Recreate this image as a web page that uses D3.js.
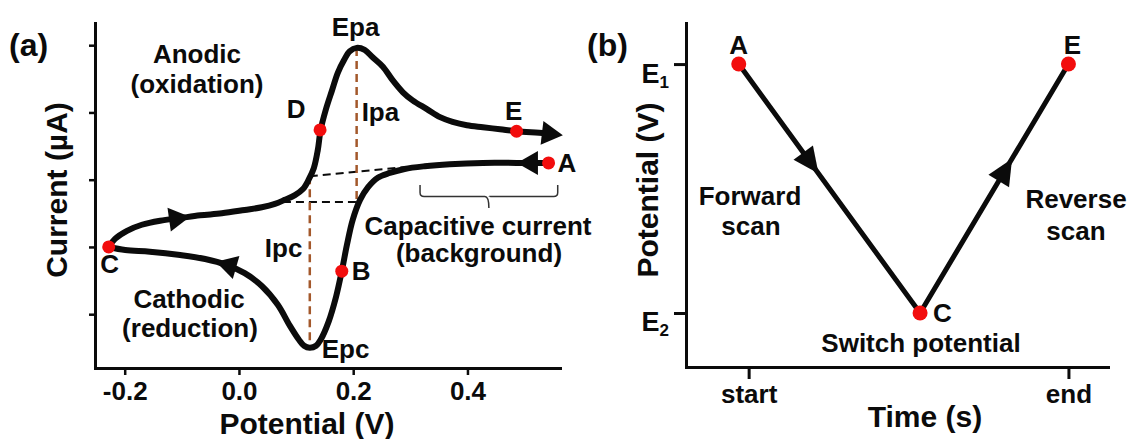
<!DOCTYPE html>
<html>
<head>
<meta charset="utf-8">
<script src="https://cdn.jsdelivr.net/npm/d3@7"></script>
<style>
  body { margin: 0; background: #fff; }
  svg { display: block; font-family: "Liberation Sans", Arial, sans-serif; font-weight: bold; }
</style>
</head>
<body>
<svg id="chart" width="1130" height="439"></svg>
<script>
// ---- (a) cyclic voltammogram: potential (V) vs current (arb. units, ticks unlabelled)
// anodic branch C -> D -> Epa -> E (ends in the arrow tip)
const anodicV = [-0.228, -0.217, -0.196, -0.170, -0.138, -0.103, -0.068, -0.030, 0.010, 0.040, 0.063, 0.080, 0.098, 0.112, 0.122, 0.131, 0.138, 0.143, 0.152, 0.163, 0.173, 0.184, 0.194, 0.206, 0.220, 0.234, 0.252, 0.269, 0.287, 0.304, 0.329, 0.352, 0.374, 0.399, 0.427, 0.457, 0.486, 0.535, 0.567];
const anodicI = [0, 0.12, 0.24, 0.33, 0.39, 0.43, 0.47, 0.50, 0.55, 0.59, 0.64, 0.70, 0.77, 0.86, 1.00, 1.17, 1.44, 1.74, 2.04, 2.33, 2.59, 2.78, 2.91, 2.96, 2.93, 2.82, 2.68, 2.48, 2.30, 2.18, 2.05, 1.93, 1.86, 1.81, 1.78, 1.75, 1.72, 1.69, 1.66];
// cathodic branch A -> B -> Epc -> C
const cathodicV = [0.542, 0.486, 0.427, 0.369, 0.325, 0.290, 0.264, 0.243, 0.226, 0.212, 0.199, 0.189, 0.180, 0.170, 0.157, 0.143, 0.135, 0.124, 0.114, 0.105, 0.089, 0.068, 0.040, 0.010, -0.021, -0.059, -0.103, -0.156, -0.199, -0.228];
const cathodicI = [1.25, 1.25, 1.25, 1.23, 1.20, 1.16, 1.10, 1.03, 0.89, 0.70, 0.40, 0.03, -0.36, -0.74, -1.11, -1.38, -1.47, -1.50, -1.47, -1.38, -1.17, -0.86, -0.58, -0.39, -0.27, -0.18, -0.12, -0.07, -0.045, 0];

const pointLabels = ["A", "B", "C", "D", "E"];
const pointV = [0.542, 0.180, -0.228, 0.142, 0.486];
const pointI = [1.25, -0.36, 0, 1.74, 1.72];

const peakLabels = ["Epa", "Epc"];
const peakV = [0.206, 0.124];
const peakI = [2.96, -1.50];
// baselines used to read the peak currents
const anodicBaseV = [0.077, 0.206], anodicBaseI = [0.67, 0.67];
const cathodicBaseV = [0.124, 0.294], cathodicBaseI = [1.05, 1.19];
// curly brace under the flat capacitive part
const braceV = [0.317, 0.558];
const braceI = [0.92, 0.75, 0.58];

const potentialTicks = [-0.2, 0, 0.2, 0.4];
const currentTicks = [-1, 0, 1, 2, 3];

// arrow tips on the voltammogram (branch, V, I); null = end of the branch
const arrowBranch = ["anodic", "cathodic", "cathodic", "anodic"];
const arrowV = [-0.086, -0.040, 0.486, null];
const arrowI = [0.45, -0.22, 1.25, null];

// ---- (b) potential waveform
const scanLabels = ["A", "C", "E"];
const scanTime = [0, 0.55, 1];
const scanPotential = [1, 0, 1];
const scanArrowAt = [0.44, 0.62];   // position of arrow tips along each leg
const timeTicks = [0.03, 1];
const timeTickLabels = ["start", "end"];
const levelTicks = [1, 0];
const levelLabels = ["1", "2"];

const svg = d3.select("#chart");
const ink = "#0b0b0b";
const red = "#f20d0d";
const brown = "#a3582b";

// ================= panel (a)
const xA = d3.scaleLinear().domain([-0.252, 0.562]).range([95, 560]);
const yA = d3.scaleLinear().domain([-1.8, 3.33]).range([368, 23]);

const gA = svg.append("g");

const axA = gA.append("g")
  .attr("transform", `translate(0,${yA.range()[0]})`)
  .call(d3.axisBottom(xA).tickValues(potentialTicks).tickFormat(d => d.toFixed(1)).tickSize(7).tickSizeOuter(0));
const ayA = gA.append("g")
  .attr("transform", `translate(${xA.range()[0]},0)`)
  .call(d3.axisLeft(yA).tickValues(currentTicks).tickFormat("").tickSize(6).tickSizeOuter(0));

[axA, ayA].forEach(g => {
  g.attr("font-family", null).attr("font-size", null);
  g.select(".domain").attr("stroke", ink).attr("stroke-width", 3).attr("stroke-linecap", "square");
  g.selectAll(".tick line").attr("stroke", ink).attr("stroke-width", 2.5);
});
axA.selectAll(".tick text")
  .attr("fill", ink).attr("font-size", 26).attr("dy", null).attr("y", 32);

gA.append("text").attr("x", 307).attr("y", 434)
  .attr("text-anchor", "middle").attr("font-size", 30).attr("fill", ink)
  .text("Potential (V)");
gA.append("text").attr("transform", "translate(67,190) rotate(-90)")
  .attr("text-anchor", "middle").attr("font-size", 30).attr("fill", ink)
  .text("Current (µA)");
gA.append("text").attr("x", 9).attr("y", 56).attr("font-size", 32).attr("fill", ink).text("(a)");

// dashed construction lines
const seg = (g, x1, y1, x2, y2, color, w) => g.append("line")
  .attr("x1", x1).attr("y1", y1).attr("x2", x2).attr("y2", y2)
  .attr("stroke", color).attr("stroke-width", w).attr("stroke-dasharray", "8,5");

seg(gA, xA(anodicBaseV[0]), yA(anodicBaseI[0]), xA(anodicBaseV[1]), yA(anodicBaseI[1]), ink, 2);
seg(gA, xA(cathodicBaseV[0]), yA(cathodicBaseI[0]), xA(cathodicBaseV[1]), yA(cathodicBaseI[1]), ink, 2);
seg(gA, xA(peakV[0]), yA(peakI[0]), xA(peakV[0]), yA(anodicBaseI[1]), brown, 2.5);
seg(gA, xA(peakV[1]), yA(cathodicBaseI[0]), xA(peakV[1]), yA(peakI[1]), brown, 2.5);

// brace
{
  const l = xA(braceV[0]), r = xA(braceV[1]), m = (l + r) / 2;
  const t = yA(braceI[0]), b = yA(braceI[1]), tip = yA(braceI[2]);
  gA.append("path")
    .attr("d", `M${l},${t}V${b - 4}Q${l},${b} ${l + 4},${b}H${m - 4}Q${m},${b} ${m},${tip}` +
               `M${m},${b - 0.01}Q${m},${b} ${m + 4},${b}H${r - 4}Q${r},${b} ${r},${b - 4}V${t}`)
    .attr("fill", "none").attr("stroke", "#333").attr("stroke-width", 1.5);
}

// curves
const lineA = d3.line().x(d => xA(d[0])).y(d => yA(d[1])).curve(d3.curveCatmullRom.alpha(0.5));
const branches = {
  anodic: d3.zip(anodicV, anodicI),
  cathodic: d3.zip(cathodicV, cathodicI)
};
const paths = {};
Object.keys(branches).forEach(k => {
  paths[k] = gA.append("path").datum(branches[k])
    .attr("d", lineA).attr("fill", "none")
    .attr("stroke", ink).attr("stroke-width", 6)
    .attr("stroke-linejoin", "round");
});

function arrowHead(g, tip, dir, len, half) {
  const bx = tip[0] - dir[0] * len, by = tip[1] - dir[1] * len;
  const nx = -dir[1], ny = dir[0];
  g.append("path")
    .attr("d", `M${tip[0]},${tip[1]}L${bx + nx * half},${by + ny * half}L${bx - nx * half},${by - ny * half}Z`)
    .attr("fill", ink);
}

function samplePath(node) {
  const total = node.getTotalLength();
  const pts = d3.range(0, 401).map(i => node.getPointAtLength(total * i / 400));
  return { total, pts };
}

const samples = {};
Object.keys(paths).forEach(k => { samples[k] = samplePath(paths[k].node()); });

arrowBranch.forEach((b, i) => {
  const { pts } = samples[b];
  let k;
  if (arrowV[i] === null) {
    k = pts.length - 1;
  } else {
    const px = xA(arrowV[i]), py = yA(arrowI[i]);
    k = d3.minIndex(pts, p => (p.x - px) ** 2 + (p.y - py) ** 2);
  }
  const p0 = pts[Math.max(0, k - 4)], p1 = pts[Math.min(pts.length - 1, k + 1)];
  const dx = p1.x - p0.x, dy = p1.y - p0.y, n = Math.hypot(dx, dy);
  arrowHead(gA, [pts[k].x, pts[k].y], [dx / n, dy / n], 21, 12);
});
// trim the anodic line so it ends under the arrowhead
paths.anodic.attr("stroke-dasharray", `${samples.anodic.total - 14} ${samples.anodic.total}`);

// points
gA.selectAll("circle.pt").data(pointLabels).join("circle")
  .attr("cx", (d, i) => xA(pointV[i])).attr("cy", (d, i) => yA(pointI[i]))
  .attr("r", 6.5).attr("fill", red);

const ptOffset = { A: [9, 9, "start"], B: [10, 9, "start"], C: [1, 26, "middle"], D: [-24, -12, "middle"], E: [-3, -11, "middle"] };
gA.selectAll("text.pt").data(pointLabels).join("text")
  .attr("x", (d, i) => xA(pointV[i]) + ptOffset[d][0])
  .attr("y", (d, i) => yA(pointI[i]) + ptOffset[d][1])
  .attr("text-anchor", d => ptOffset[d][2])
  .attr("font-size", 26).attr("fill", ink).text(d => d);

// annotations
const note = (g, x, y, s, anchor) => g.append("text").attr("x", x).attr("y", y)
  .attr("text-anchor", anchor || "middle").attr("font-size", 26).attr("fill", ink).text(s);
note(gA, xA(peakV[0]) - 1, yA(peakI[0]) - 12, peakLabels[0]);
note(gA, xA(peakV[1]) + 12, yA(peakI[1]) + 10, peakLabels[1], "start");
note(gA, xA(peakV[0]) + 5, 121, "Ipa", "start");
note(gA, xA(peakV[1]) - 45, 257, "Ipc", "start");
note(gA, 197, 63, "Anodic");
note(gA, 197, 93, "(oxidation)");
note(gA, 189, 308, "Cathodic");
note(gA, 190, 337, "(reduction)");
note(gA, 478, 235, "Capacitive current");
note(gA, 479, 262, "(background)");

// ================= panel (b)
const xB = d3.scaleLinear().domain([-0.16, 1.12]).range([686, 1108]);
const yB = d3.scaleLinear().domain([-0.217, 1.165]).range([367, 23]);
const gB = svg.append("g");

const axB = gB.append("g")
  .attr("transform", `translate(0,${yB.range()[0]})`)
  .call(d3.axisBottom(xB).tickValues(timeTicks).tickFormat((d, i) => timeTickLabels[i]).tickSize(12).tickSizeOuter(0));
const ayB = gB.append("g")
  .attr("transform", `translate(${xB.range()[0]},0)`)
  .call(d3.axisLeft(yB).tickValues(levelTicks).tickFormat("").tickSize(12).tickSizeOuter(0));

[axB, ayB].forEach(g => {
  g.attr("font-family", null).attr("font-size", null);
  g.select(".domain").attr("stroke", ink).attr("stroke-width", 3).attr("stroke-linecap", "square");
  g.selectAll(".tick line").attr("stroke", ink).attr("stroke-width", 3);
});
axB.selectAll(".tick text")
  .attr("fill", ink).attr("font-size", 26).attr("dy", null).attr("y", 36);

const lvl = ayB.selectAll(".tick").append("text")
  .attr("x", -17).attr("y", 18).attr("text-anchor", "end").attr("fill", ink).attr("font-size", 27);
lvl.append("tspan").text("E");
lvl.append("tspan").attr("font-size", 17).attr("dy", 5).text((d, i) => levelLabels[i]);

gB.append("text").attr("x", 925).attr("y", 427)
  .attr("text-anchor", "middle").attr("font-size", 30).attr("fill", ink).text("Time (s)");
gB.append("text").attr("transform", "translate(658,190) rotate(-90)")
  .attr("text-anchor", "middle").attr("font-size", 30).attr("fill", ink).text("Potential (V)");
gB.append("text").attr("x", 587).attr("y", 56).attr("font-size", 32).attr("fill", ink).text("(b)");

const scanPts = d3.zip(scanTime, scanPotential).map(d => [xB(d[0]), yB(d[1])]);
gB.append("path")
  .attr("d", d3.line()(scanPts))
  .attr("fill", "none").attr("stroke", ink).attr("stroke-width", 5).attr("stroke-linejoin", "miter");

scanArrowAt.forEach((f, i) => {
  const a = scanPts[i], b = scanPts[i + 1];
  const dx = b[0] - a[0], dy = b[1] - a[1], n = Math.hypot(dx, dy);
  arrowHead(gB, [a[0] + dx * f, a[1] + dy * f], [dx / n, dy / n], 26, 12);
});

gB.selectAll("circle").data(scanPts).join("circle")
  .attr("cx", d => d[0]).attr("cy", d => d[1]).attr("r", 7.5).attr("fill", red);

const scanOffset = { A: [0, -10, "middle"], C: [13, 9, "start"], E: [4, -10, "middle"] };
gB.selectAll("text.scan").data(scanLabels).join("text")
  .attr("x", (d, i) => scanPts[i][0] + scanOffset[d][0])
  .attr("y", (d, i) => scanPts[i][1] + scanOffset[d][1])
  .attr("text-anchor", d => scanOffset[d][2])
  .attr("font-size", 26).attr("fill", ink).text(d => d);

note(gB, 750, 205, "Forward");
note(gB, 751, 235, "scan");
note(gB, 1076, 208, "Reverse");
note(gB, 1076, 240, "scan");
note(gB, 921, 352, "Switch potential");
</script>
</body>
</html>
